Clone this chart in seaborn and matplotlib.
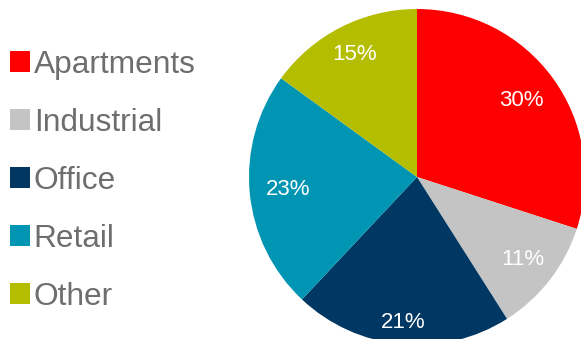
import matplotlib
matplotlib.use("Agg")
import matplotlib.pyplot as plt
import seaborn as sns
from matplotlib.patches import Patch

categories = ["Apartments", "Industrial", "Office", "Retail", "Other"]
shares = [30, 11, 21, 23, 15]
colors = ["#FF0000", "#C3C4C3", "#003863", "#0095B3", "#B5BD00"]
label_dist = [0.77, 0.80, 0.87, 0.77, 0.82]

sns.set_theme(style="white")
plt.rcParams["font.family"] = ["Liberation Sans", "DejaVu Sans"]

fig = plt.figure(figsize=(5.81, 3.39), dpi=100)
ax = fig.add_axes([249 / 581, -6 / 339, 336 / 581, 336 / 339])
wedges, texts, autotexts = ax.pie(
    shares, colors=colors, startangle=90, counterclock=False,
    autopct="%d%%", pctdistance=0.8, radius=1.0,
    wedgeprops=dict(linewidth=0), textprops=dict(color="white", fontsize=16),
)
for t, d in zip(autotexts, label_dist):
    x, y = t.get_position()
    t.set_position((x / 0.8 * d, y / 0.8 * d))
for w in wedges:
    w.set_clip_on(False)
ax.set_xlim(-1, 1)
ax.set_ylim(-1, 1)
ax.set_aspect("equal")
ax.axis("off")

handles = [Patch(facecolor=c, edgecolor="none") for c in colors]
leg = fig.legend(handles, categories, loc="upper left", bbox_to_anchor=(0.017, 0.853),
                 frameon=False, fontsize=22.8, handlelength=0.63, handleheight=0.63,
                 handletextpad=0.12, labelspacing=0.885, borderaxespad=0, borderpad=0)
for t in leg.get_texts():
    t.set_color("#6E6E6E")

fig.savefig("out.png", dpi=100)
